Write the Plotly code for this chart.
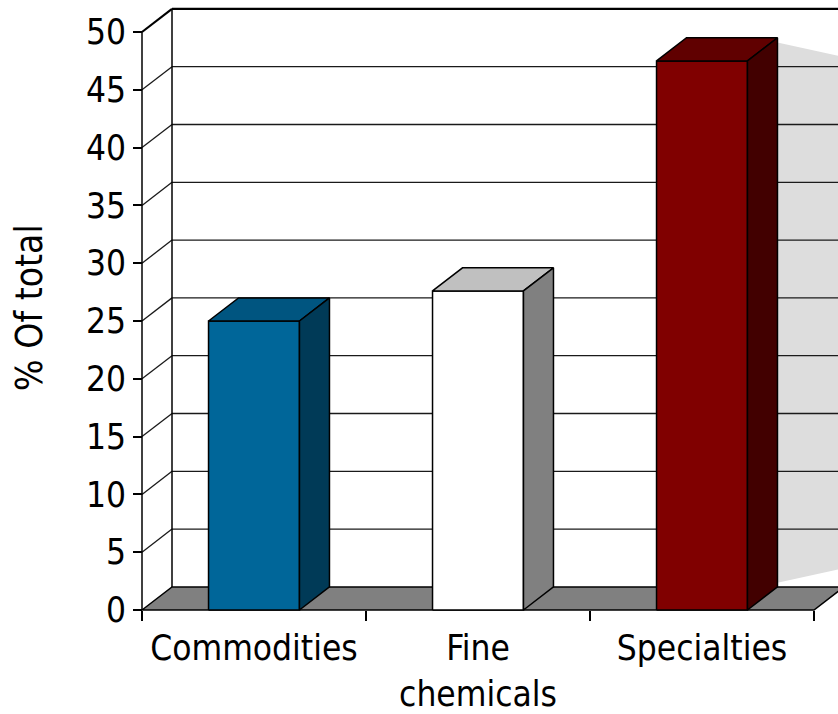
import plotly.graph_objects as go

# ---- data ----
categories = ["Commodities", "Fine<br>chemicals", "Specialties"]
values = [25.0, 27.6, 47.5]
y_ticks = [0, 5, 10, 15, 20, 25, 30, 35, 40, 45, 50]
y_title = "% Of total"

# ---- style ----
front_colors = ["#006699", "#FFFFFF", "#800000"]
top_colors = ["#005580", "#C0C0C0", "#600000"]
side_colors = ["#003A57", "#808080", "#420000"]
FONT = "DejaVu Sans Condensed, DejaVu Sans, sans-serif"
W, H = 838, 714
X0_PX, Y0_PX = 142, 610          # pixel of front axis origin
PX_X, PX_Y = 224.0, 11.56        # pixels per category / per unit
DX, DY = 30 / 224.0, 2.0         # depth offset in data units
HW = 0.203                        # half width of bar face
YMAX = 50

x_range = [-0.5 - X0_PX / PX_X, -0.5 + (W - X0_PX) / PX_X]
y_range = [-(H - Y0_PX) / PX_Y, Y0_PX / PX_Y]

fig = go.Figure()

def poly(xs, ys, fill, lw=1.5, lc="black"):
    fig.add_trace(go.Scatter(
        x=list(xs) + [xs[0]], y=list(ys) + [ys[0]], mode="lines",
        fill="toself", fillcolor=fill, line=dict(color=lc, width=lw),
        hoverinfo="skip", showlegend=False))

def seg(xs, ys, color="#1a1a1a", width=1.3):
    fig.add_trace(go.Scatter(x=xs, y=ys, mode="lines",
                             line=dict(color=color, width=width),
                             hoverinfo="skip", showlegend=False))

n = len(values)
xl, xr = -0.5, n - 0.5
far = x_range[1] + 0.5

# shadow on back wall behind last bar
sv = values[-1]
sx0 = (n - 1) + HW + DX
slope = 4.3
poly([sx0, far, far, sx0],
     [sv + DY - 0.4, sv + DY - 0.4 - slope * (far - sx0),
      DY + 0.35 + slope * (far - sx0), DY + 0.35],
     "#DDDDDD", lw=0, lc="rgba(0,0,0,0)")

# gridlines: back wall + left wall diagonals
for v in y_ticks[1:]:
    w = 2.2 if v == YMAX else 1.3
    c = "black" if v == YMAX else "#1a1a1a"
    seg([xl + DX, far], [v + DY, v + DY], color=c, width=w)
    seg([xl, xl + DX], [v, v + DY], color=c, width=w if v == YMAX else 1.3)

# left wall back corner
seg([xl + DX, xl + DX], [DY, YMAX + DY], color="black", width=1.5)
# front value axis line
seg([xl, xl], [0, YMAX], color="black", width=1.5)

# floor
poly([xl, xr, xr + DX, xl + DX], [0, 0, DY, DY], "#808080")

# bars
for i, v in enumerate(values):
    a, b = i - HW, i + HW
    poly([a, b, b, a], [0, 0, v, v], front_colors[i])
    poly([a, b, b + DX, a + DX], [v, v, v + DY, v + DY], top_colors[i])
    poly([b, b + DX, b + DX, b], [0, DY, v + DY, v], side_colors[i])

fig.update_layout(
    width=W, height=H,
    margin=dict(l=0, r=0, t=0, b=0, autoexpand=False),
    paper_bgcolor="white", plot_bgcolor="white",
    font=dict(family=FONT, size=35, color="black"),
    xaxis=dict(range=x_range, anchor="free", automargin=False,
               position=(H - Y0_PX) / H,
               tickmode="array", tickvals=[k - 0.5 for k in range(n + 1)],
               ticks="outside", ticklen=10, tickwidth=1.5, tickcolor="black",
               showticklabels=False, showgrid=False, zeroline=False,
               showline=False, fixedrange=True),
    xaxis2=dict(range=x_range, overlaying="x", anchor="free", automargin=False,
                position=(H - Y0_PX) / H, side="bottom",
                tickmode="array", tickvals=list(range(n)), ticktext=categories,
                ticks="", ticklabelstandoff=14,
                tickfont=dict(family=FONT, size=35, color="black"),
                showgrid=False, zeroline=False, showline=False),
    yaxis=dict(range=y_range, anchor="free", position=X0_PX / W,
               automargin=False,
               tickmode="array", tickvals=y_ticks,
               ticks="outside", ticklen=9, tickwidth=1.5, tickcolor="black",
               tickfont=dict(family=FONT, size=35, color="black"),
               showgrid=False, zeroline=False, showline=False,
               fixedrange=True),
    annotations=[dict(text=y_title, xref="paper", yref="paper",
                      x=29 / W, y=1 - 308 / H, xanchor="center",
                      yanchor="middle", textangle=-90, showarrow=False,
                      font=dict(family=FONT, size=37, color="black"))],
)
# invisible trace bound to xaxis2 so its labels render
fig.add_trace(go.Scatter(x=[0], y=[0], xaxis="x2", mode="markers",
                         marker=dict(opacity=0), hoverinfo="skip",
                         showlegend=False))

fig.write_html("out.html")
